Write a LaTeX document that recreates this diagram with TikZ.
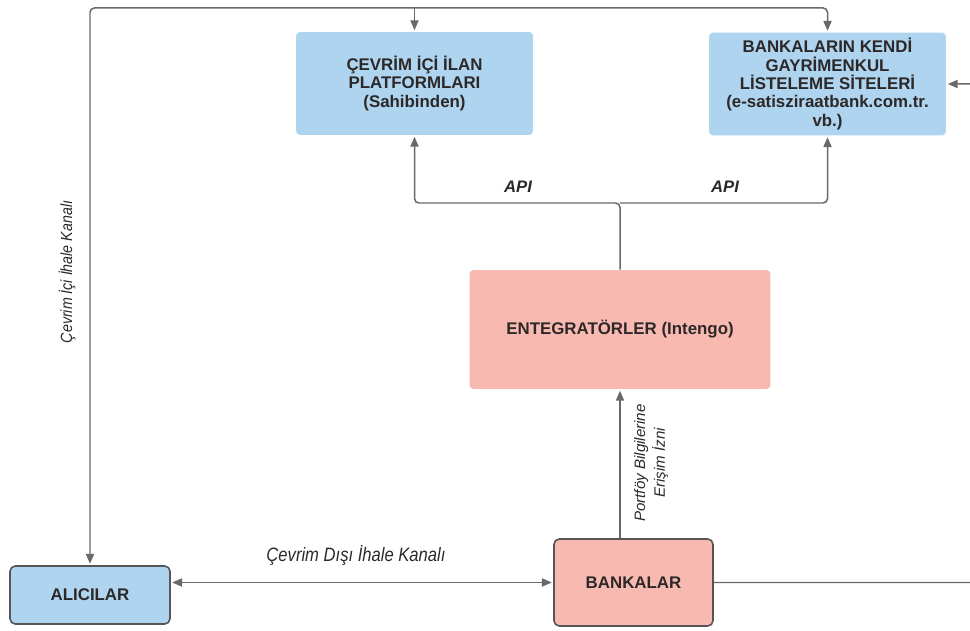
\documentclass[tikz,border=0pt]{standalone}
\usepackage{fontspec}
\setmainfont{Liberation Sans}
\usetikzlibrary{arrows.meta}
\definecolor{boxblue}{RGB}{174,212,239}
\definecolor{boxpink}{RGB}{248,186,176}
\definecolor{linegray}{RGB}{105,105,105}
\definecolor{edgegray}{RGB}{85,85,85}
\definecolor{txt}{RGB}{45,40,40}
\begin{document}
\begin{tikzpicture}[x=0.02cm,y=-0.02cm,
  tip/.tip={Triangle[length=5.6pt,width=4.6pt]},
  boxbase/.style={rounded corners=2.3pt, inner sep=0pt, align=center, text=txt,
    font=\bfseries\fontsize{9.6}{10.4}\selectfont},
  bluebox/.style={boxbase, fill=boxblue},
  pinkbox/.style={boxbase, fill=boxpink},
  framed/.style={draw=edgegray, line width=0.9pt, rounded corners=3pt},
  conn/.style={draw=linegray, line width=0.85pt, rounded corners=2.5pt, shorten >=0.8pt},
  lbl/.style={text=txt, inner sep=0pt, align=center}
]
\useasboundingbox (0,0) rectangle (970,631);
\begin{scope}
\clip (0,0) rectangle (970,631);

% nodes
\node[bluebox, minimum width=4.74cm, minimum height=2.06cm] (b1) at (414.5,83.5)
  {ÇEVRİM İÇİ İLAN\\PLATFORMLARI\\(Sahibinden)};
\node[bluebox, minimum width=4.74cm, minimum height=2.06cm] (b2) at (827.5,84)
  {BANKALARIN KENDİ\\GAYRİMENKUL\\LİSTELEME SİTELERİ\\(e-satisziraatbank.com.tr.\\vb.)};
\node[pinkbox, minimum width=6.02cm, minimum height=2.38cm] (ent) at (620,329.5)
  {ENTEGRATÖRLER (Intengo)};
\node[bluebox, framed, minimum width=3.2cm, minimum height=1.16cm] (al) at (90,595)
  {ALICILAR};
\node[pinkbox, framed, minimum width=3.18cm, minimum height=1.74cm] (bank) at (633.5,582.5)
  {BANKALAR};

\coordinate (tr) at (827.5,8);
\coordinate (tm) at (414.5,8);
\coordinate (j) at (620,203);
\coordinate (rb) at (1000,582.5);
\coordinate (rt) at (1000,84);

% top channel
\draw[conn, tip-tip, shorten <=0.8pt] (al.north) |- (tr) -- (b2.north);
\draw[conn, -tip] (tm) -- (b1.north);

% API connectors
\draw[conn, -tip] (ent.north) -- (j) -| (b1.south);
\draw[conn, -tip] (j) -| (b2.south);

% bank to integrator
\draw[conn, -tip] (ent.south |- bank.north) -- (ent.south);

% offline channel
\draw[conn, tip-tip, shorten <=0.8pt] (al.east |- bank.west) -- (bank.west);

% bank to own sites (runs outside the frame)
\draw[conn, -tip] (bank.east) -- (rb) -- (rt) -- (b2.east);
\end{scope}

% labels
\node[lbl, font=\bfseries\itshape\fontsize{9.5}{11}\selectfont] (api1) at (518,187) {API};
\node[lbl, font=\bfseries\itshape\fontsize{9.5}{11}\selectfont] (api2) at (725,187) {API};
\node[lbl, font=\itshape\fontsize{10.5}{12}\selectfont] (off) at (356,555)
  {\scalebox{0.9}[1.05]{Çevrim Dışı İhale Kanalı}};
\node[lbl, rotate=90, font=\itshape\fontsize{8.6}{11.2}\selectfont] (port) at (651,463)
  {Portföy Bilgilerine\\Erişim İzni};
\node[lbl, rotate=90, font=\itshape\fontsize{8.8}{11}\selectfont] (on) at (67,272)
  {\scalebox{0.92}[1.05]{Çevrim İçi İhale Kanalı}};
\end{tikzpicture}
\end{document}
